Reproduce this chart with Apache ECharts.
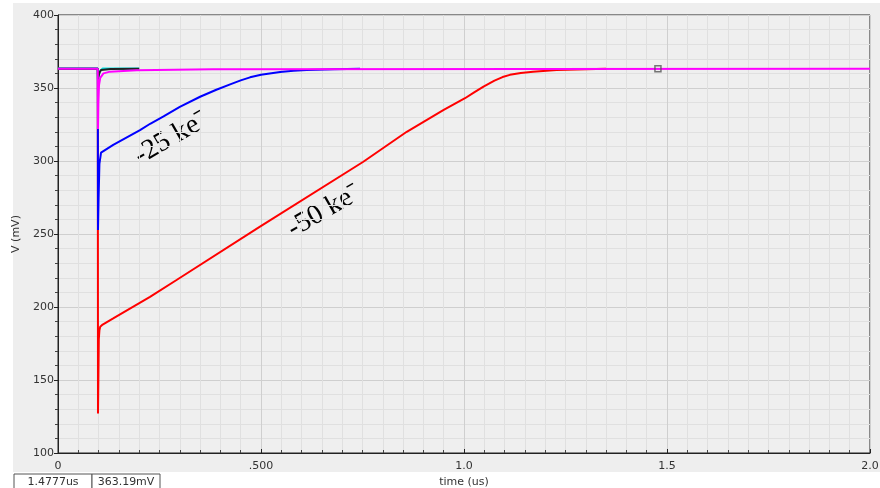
<!DOCTYPE html>
<html>
<head>
<meta charset="utf-8">
<script src="https://cdn.jsdelivr.net/npm/echarts@6/dist/echarts.min.js"></script>
<style>
  html, body { margin: 0; padding: 0; background: #fff; }
  #chart { width: 880px; height: 488px; }
</style>
</head>
<body>
<div id="chart"></div>
<script>
// transient response, time in us, voltage in mV
var xTicks = [0, 0.5, 1.0, 1.5, 2.0];
var xTickLabels = ['0', '.500', '1.0', '1.5', '2.0'];

var redTime = [0, 0.098, 0.0985, 0.0995, 0.1005, 0.102, 0.104, 0.11, 0.136, 0.2266, 0.292, 0.4975, 0.752, 0.859, 0.95, 1.0025, 1.025, 1.048, 1.075, 1.095, 1.113, 1.14, 1.17, 1.228, 1.35];
var redMv   = [363.2, 363.2, 127, 152, 178, 184, 186.5, 188, 192.2, 207, 218.5, 255, 299.5, 320, 335, 343, 347, 351, 355, 357.5, 359, 360.3, 361.2, 362.3, 363.2];

var blueTime = [0, 0.098, 0.0985, 0.1, 0.102, 0.106, 0.136, 0.202, 0.227, 0.26, 0.3, 0.35, 0.39, 0.424, 0.45, 0.473, 0.5, 0.547, 0.58, 0.6125, 0.68, 0.744];
var blueMv   = [363.2, 363.2, 252.7, 275, 298, 305.7, 311, 321.2, 325.5, 330.5, 337, 344, 348.8, 352.5, 355.2, 357.3, 359.1, 361.0, 361.8, 362.3, 362.8, 363.1];

var cyanTime = [0, 0.098, 0.0985, 0.1, 0.103, 0.11, 0.2];
var cyanMv   = [363.3, 363.3, 352, 358, 361.5, 363.4, 363.4];

var blackTime = [0, 0.098, 0.0985, 0.1, 0.102, 0.106, 0.13, 0.2];
var blackMv   = [363.2, 363.2, 356, 358, 360.5, 362.3, 363, 363.2];

var magentaTime = [0, 0.098, 0.0985, 0.0995, 0.101, 0.104, 0.112, 0.128, 0.194, 0.38, 2.0];
var magentaMv   = [363.2, 363.2, 322, 340, 352, 357, 360, 361.2, 362.2, 362.9, 363.2];

var cursorTime = 1.4777;
var cursorMv = 363.19;

function pairs(t, v) {
  return t.map(function (x, i) { return [x, v[i]]; });
}

function line(name, color, t, v) {
  return {
    name: name,
    type: 'line',
    data: pairs(t, v),
    showSymbol: false,
    lineStyle: { color: color, width: 2 },
    itemStyle: { color: color }
  };
}

var chart = echarts.init(document.getElementById('chart'));

var option = {
  animation: false,
  backgroundColor: '#fff',
  graphic: [
    {
      type: 'rect', z: -10, silent: true,
      shape: { x: 13, y: 3, width: 867, height: 469 },
      style: { fill: '#eeeeee' }
    },
    {
      type: 'text', x: 171, y: 138, rotation: Math.PI / 6,
      style: { text: '-25 ke\u207B', font: '28px "Liberation Serif"', fill: '#000', textAlign: 'center', textVerticalAlign: 'middle' }
    },
    {
      type: 'text', x: 324, y: 211, rotation: Math.PI / 6,
      style: { text: '-50 ke\u207B', font: '28px "Liberation Serif"', fill: '#000', textAlign: 'center', textVerticalAlign: 'middle' }
    },
    {
      type: 'rect', shape: { x: 14, y: 474, width: 78, height: 16 },
      style: { fill: '#fff', stroke: '#555', lineWidth: 1 }
    },
    {
      type: 'rect', shape: { x: 92, y: 474, width: 68, height: 16 },
      style: { fill: '#fff', stroke: '#555', lineWidth: 1 }
    },
    {
      type: 'text', x: 53, y: 482,
      style: { text: cursorTime + 'us', font: '11px "DejaVu Sans"', fill: '#333', textAlign: 'center', textVerticalAlign: 'middle' }
    },
    {
      type: 'text', x: 126, y: 482,
      style: { text: cursorMv + 'mV', font: '11px "DejaVu Sans"', fill: '#333', textAlign: 'center', textVerticalAlign: 'middle' }
    }
  ],
  grid: {
    left: 58, right: 10, top: 15, bottom: 35,
    outerBoundsMode: 'none', containLabel: false,
    show: true, backgroundColor: '#efefef', borderColor: '#222', borderWidth: 1
  },
  xAxis: {
    type: 'value', min: 0, max: 2, interval: 0.5,
    name: 'time (us)', nameLocation: 'middle', nameGap: 23,
    nameTextStyle: { fontFamily: 'DejaVu Sans', fontSize: 11, color: '#333' },
    axisLine: { lineStyle: { color: '#222' } },
    axisTick: { inside: true, length: 4, lineStyle: { color: '#222' } },
    minorTick: { show: true, splitNumber: 10, length: 3, lineStyle: { color: '#444' } },
    axisLabel: {
      fontFamily: 'DejaVu Sans', fontSize: 11, color: '#333', margin: 8,
      formatter: function (v) {
        var i = xTicks.indexOf(v);
        return i >= 0 ? xTickLabels[i] : '';
      }
    },
    splitLine: { lineStyle: { color: '#cfcfcf' } },
    minorSplitLine: { show: true, lineStyle: { color: '#e0e0e0' } }
  },
  yAxis: {
    type: 'value', min: 100, max: 400, interval: 50,
    name: 'V (mV)', nameLocation: 'middle', nameGap: 27,
    nameTextStyle: { fontFamily: 'DejaVu Sans', fontSize: 11, color: '#333' },
    axisLine: { show: true, lineStyle: { color: '#222' } },
    axisTick: { show: true, length: 4, lineStyle: { color: '#222' } },
    minorTick: { show: true, splitNumber: 5, length: 3, lineStyle: { color: '#444' } },
    axisLabel: { fontFamily: 'DejaVu Sans', fontSize: 11, color: '#333', margin: 4 },
    splitLine: { lineStyle: { color: '#cfcfcf' } },
    minorSplitLine: { show: true, lineStyle: { color: '#e0e0e0' } }
  },
  series: [
    line('-50 ke', '#ff0000', redTime, redMv),
    line('-25 ke', '#0000ff', blueTime, blueMv),
    line('cyan', '#00e5e5', cyanTime, cyanMv),
    line('black', '#222222', blackTime, blackMv),
    line('magenta', '#ff00ff', magentaTime, magentaMv),
    {
      name: 'cursor', type: 'scatter', z: 5,
      data: [[cursorTime, cursorMv]],
      symbol: 'rect', symbolSize: 6,
      itemStyle: { color: 'rgba(0,0,0,0)', borderColor: '#555', borderWidth: 1.5 }
    }
  ]
};

chart.setOption(option);
</script>
</body>
</html>
